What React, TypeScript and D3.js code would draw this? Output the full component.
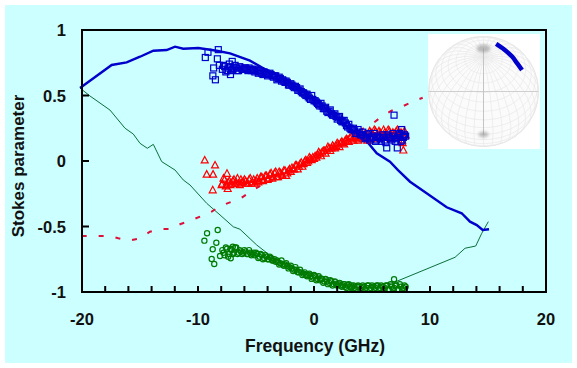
import React from "react";
import * as d3 from "d3";

const xTicks = [-20, -10, 0, 10, 20];
const xMinor = [-18, -16, -14, -12, -8, -6, -4, -2, 2, 4, 6, 8, 12, 14, 16, 18];
const yTicks = [1, 0.5, 0, -0.5, -1];

const blueLine: [number, number][] = [[-20.17,.557],[-17.44,.733],[-16.15,.753],[-15,.796],[-13.85,.842],[-12.7,.847],[-11.98,.873],[-11.27,.857],[-9.97,.863],[-8.39,.842],[-7.24,.822],[-5.52,.766],[-4.37,.708],[-2.93,.644],[-1.78,.58],[.52,.44],[2.82,.262],[4.22,.185],[5.41,.059],[6.55,-.005],[7.24,-.069],[8.28,-.158],[9.4,-.227],[11.44,-.353],[12.73,-.399],[13.45,-.463],[14.03,-.489],[14.54,-.527],[15.09,-.521]];
const greenLine: [number, number][] = [[-20.17,.557],[-19.31,.496],[-17.59,.389],[-16.29,.25],[-15.58,.206],[-15,.135],[-14.37,.097],[-13.85,.127],[-13.13,-.005],[-11.98,-.069],[-11.27,-.145],[-10.69,-.183],[-9.25,-.323],[-8.1,-.412],[-6.96,-.502],[-6.38,-.521],[-4.94,-.641],[-3.51,-.74],[-1.2,-.832],[2.24,-.916],[4.83,-.954],[6.84,-.929],[12.16,-.735],[13.02,-.666],[13.94,-.649],[14.46,-.552],[15.03,-.463]];
const redLine: [number, number][] = [[-20.03,-.573],[-17.59,-.573],[-16.87,-.59],[-16,-.608],[-15,-.59],[-14.14,-.54],[-13.28,-.519],[-12.41,-.519],[-11.55,-.483],[-10.69,-.456],[-9.68,-.42],[-8.82,-.387],[-8.1,-.344],[-7.09,-.311],[-6.23,-.28],[-5.37,-.227],[-4.51,-.183],[-2.93,-.115],[-1.21,-.03],[1.38,.084],[3.1,.198],[4.97,.28],[5.75,.334],[6.64,.382],[7.59,.415],[8.51,.453],[9.37,.483]];

const markerFreq = [-7.9,-7.7,-7.5,-7.3,-7.1,-6.9,-6.7,-6.5,-6.3,-6.1,-5.9,-5.7,-5.5,-5.3,-5.1,-4.9,-4.7,-4.5,-4.3,-4.1,-3.9,-3.7,-3.5,-3.3,-3.1,-2.9,-2.7,-2.5,-2.3,-2.1,-1.9,-1.7,-1.5,-1.3,-1.1,-.9,-.7,-.5,-.3,-.1,.1,.3,.5,.7,.9,1.1,1.3,1.5,1.7,1.9,2.1,2.3,2.5,2.7,2.9,3.1,3.3,3.5,3.7,3.9,4.1,4.3,4.5,4.7,4.9,5.1,5.3,5.5,5.7,5.9,6.1,6.3,6.5,6.7,6.9,7.1,7.3,7.5,7.7,7.9];
const blueMarks = [.70,.72,.69,.74,.69,.71,.71,.69,.71,.70,.71,.69,.70,.70,.68,.69,.68,.67,.68,.67,.66,.66,.64,.65,.63,.63,.62,.60,.60,.58,.58,.56,.56,.54,.53,.52,.50,.49,.47,.47,.46,.44,.42,.42,.40,.38,.38,.36,.35,.34,.33,.31,.30,.29,.26,.25,.24,.23,.21,.22,.20,.19,.18,.21,.17,.18,.15,.19,.17,.20,.16,.20,.18,.16,.19,.17,.20,.15,.18,.19];
const redMarks = [-.17,-.14,-.18,-.15,-.17,-.14,-.16,-.17,-.14,-.16,-.15,-.17,-.13,-.16,-.17,-.13,-.15,-.12,-.14,-.11,-.13,-.09,-.12,-.08,-.12,-.09,-.11,-.07,-.09,-.06,-.05,-.06,-.03,-.04,-.01,-.02,.01,0,.02,.03,.04,.05,.06,.07,.08,.09,.10,.10,.11,.12,.13,.14,.14,.16,.16,.18,.17,.18,.17,.19,.18,.20,.18,.17,.22,.19,.23,.18,.22,.19,.22,.18,.23,.19,.21,.23,.18,.22,.19,.20];
const greenMarks = [-.68,-.72,-.67,-.71,-.68,-.70,-.66,-.70,-.69,-.70,-.69,-.71,-.70,-.71,-.72,-.71,-.73,-.72,-.74,-.73,-.75,-.74,-.76,-.77,-.77,-.78,-.79,-.79,-.80,-.81,-.82,-.83,-.83,-.85,-.85,-.86,-.87,-.87,-.88,-.89,-.88,-.90,-.91,-.90,-.92,-.92,-.93,-.92,-.94,-.94,-.94,-.95,-.95,-.96,-.95,-.96,-.96,-.97,-.96,-.96,-.97,-.96,-.97,-.95,-.97,-.96,-.97,-.95,-.97,-.96,-.97,-.95,-.98,-.96,-.97,-.95,-.98,-.96,-.97,-.96];

const markerFreq2 = [-7.8,-7.6,-7.4,-7.2,-7,-6.8,-6.6,-6.4,-6.2,-6,-5.8,-5.6,-5.4,-5.2,-5,-4.8,-4.6,-4.4,-4.2,-4,-3.8,-3.6,-3.4,-3.2,-3,-2.8,-2.6,-2.4,-2.2,-2,-1.8,-1.6,-1.4,-1.2,-1,-.8,-.6,-.4,-.2,0,.2,.4,.6,.8,1,1.2,1.4,1.6,1.8,2,2.2,2.4,2.6,2.8,3,3.2,3.4,3.6,3.8,4,4.2,4.4,4.6,4.8,5,5.2,5.4,5.6,5.8,6,6.2,6.4,6.6,6.8,7,7.2,7.4,7.6,7.8];
const blueMarks2 = [.73,.68,.71,.72,.70,.73,.69,.72,.70,.71,.70,.71,.69,.69,.70,.67,.69,.66,.67,.65,.67,.65,.65,.62,.64,.61,.61,.61,.58,.59,.57,.57,.54,.55,.52,.51,.51,.48,.50,.46,.45,.43,.44,.40,.41,.37,.39,.35,.36,.32,.34,.30,.31,.27,.28,.24,.25,.21,.24,.20,.22,.17,.20,.16,.19,.21,.16,.18,.15,.18,.14,.19,.17,.21,.15,.18,.21,.16,.20];
const redMarks2 = [-.13,-.19,-.16,-.18,-.15,-.17,-.13,-.18,-.16,-.14,-.17,-.14,-.17,-.14,-.15,-.16,-.12,-.15,-.11,-.14,-.10,-.13,-.09,-.12,-.08,-.10,-.07,-.11,-.07,-.08,-.06,-.03,-.06,-.02,-.04,0,-.01,.03,.01,.02,.03,.07,.04,.08,.06,.11,.08,.12,.10,.14,.11,.15,.13,.17,.15,.19,.16,.19,.16,.20,.17,.21,.16,.23,.18,.24,.17,.23,.18,.24,.19,.24,.17,.22,.18,.24,.20,.16,.23];
const greenMarks2 = [-.70,-.66,-.73,-.67,-.71,-.66,-.71,-.68,-.71,-.68,-.71,-.68,-.72,-.70,-.70,-.74,-.71,-.75,-.72,-.75,-.73,-.76,-.75,-.76,-.79,-.76,-.80,-.78,-.82,-.80,-.84,-.81,-.85,-.83,-.87,-.85,-.88,-.86,-.90,-.87,-.91,-.88,-.90,-.93,-.90,-.94,-.91,-.95,-.92,-.95,-.93,-.96,-.94,-.97,-.94,-.97,-.95,-.98,-.95,-.98,-.95,-.98,-.95,-.98,-.95,-.98,-.95,-.98,-.95,-.98,-.95,-.98,-.94,-.98,-.95,-.98,-.94,-.98,-.95];

const blueOutliers: [number, number][] = [[-9.37,.79],[-9.14,.83],[-8.25,.85],[-8.33,.78],[-8.65,.71],[-8.72,.65],[-8.5,.62],[-8.16,.73],[-7.2,.66],[-7.05,.76],[6.9,.35],[7.56,.24],[7.7,.185],[7.18,.10],[6.27,.10]];
const redOutliers: [number, number][] = [[-9.42,.008],[-8.53,-.03],[-9.25,-.1],[-8.7,-.1],[-8.73,-.22],[-7.5,-.094],[-7.44,-.21],[-7.96,-.18],[7.64,.14],[7.7,.084]];
const greenOutliers: [number, number][] = [[-9.22,-.552],[-8.3,-.527],[-9.45,-.608],[-8.42,-.624],[-8.73,-.674],[-8.82,-.748],[-8.6,-.786],[-8.1,-.725],[-7.18,-.743],[-7,-.654],[6.9,-.903]];

const sphereTrack: [number, number][] = [[.23,-.867],[.36,-.776],[.52,-.635],[.61,-.515],[.70,-.39]];

const x = d3.scaleLinear().domain([-20, 20]).range([82, 546]);
const y = d3.scaleLinear().domain([-1, 1]).range([292, 30]);
const line = d3.line<[number, number]>().x(d => x(d[0])).y(d => y(d[1]));

const font = "'Liberation Sans', Arial, sans-serif";
const zip = (fs: number[], vals: number[]): [number, number][] => fs.map((f, i) => [f, vals[i]]);

const cx = 483.5, cy = 91.5, R = 55;
const front = d3.geoOrthographic().scale(R).translate([cx, cy]).rotate([0, -51, 0]).clipAngle(90).precision(0.5);
const back = d3.geoOrthographic().scale(R).translate([cx, cy]).rotate([180, 51, 180]).clipAngle(90).precision(0.5);
const grat = d3.geoGraticule().step([10, 10]).extentMajor([[-180, -90], [180, 90]]).extentMinor([[-180, -90], [180, 90]])();
const su = d3.scaleLinear().domain([-1, 1]).range([cx - R, cx + R]);
const sv = d3.scaleLinear().domain([-1, 1]).range([cy - R, cy + R]);
const trackLine = d3.line<[number, number]>().x(d => su(d[0])).y(d => sv(d[1])).curve(d3.curveCatmullRom);
const pole = 43;

export default function App() {
  const s = (pts: [number, number][], k: string) => pts.map((d, i) => (
    <rect key={k + i} x={x(d[0]) - 3} y={y(d[1]) - 3} width={6} height={6} fill="none" stroke="#0000cc" strokeWidth={1.2} />
  ));
  const t = (pts: [number, number][], k: string) => pts.map((d, i) => (
    <path key={k + i} d={`M${x(d[0])},${y(d[1]) - 3.5}l3.5,6.5h-7z`} fill="none" stroke="#ff0000" strokeWidth={1.2} />
  ));
  const c = (pts: [number, number][], k: string) => pts.map((d, i) => (
    <circle key={k + i} cx={x(d[0])} cy={y(d[1])} r={2.6} fill="none" stroke="#007a00" strokeWidth={1.2} />
  ));
  return (
    <svg width={577} height={368} style={{ position: "absolute", left: 0, top: 0 }} fontFamily={font}>
      <defs>
        <filter id="soft" x="-20%" y="-20%" width="140%" height="140%"><feGaussianBlur stdDeviation="0.5" /></filter>
        <filter id="smudge" x="-100%" y="-100%" width="300%" height="300%"><feGaussianBlur stdDeviation="1.8" /></filter>
      </defs>
      <rect width={577} height={368} fill="#ffffff" />
      <rect x={5} y={5} width={567} height={358} fill="#ccffff" />
      <path d={line(greenLine)!} fill="none" stroke="#0a7038" strokeWidth={1} />
      <path d={line(redLine)!} fill="none" stroke="#dc1038" strokeWidth={2} strokeDasharray="5 12" />
      <path d={line(blueLine)!} fill="none" stroke="#0000cc" strokeWidth={2.4} />
      {c(zip(markerFreq, greenMarks), "g")}
      {c(zip(markerFreq2, greenMarks2), "g2")}
      {c(greenOutliers, "go")}
      {t(zip(markerFreq, redMarks), "r")}
      {t(zip(markerFreq2, redMarks2), "r2")}
      {t(redOutliers, "ro")}
      {s(zip(markerFreq, blueMarks), "b")}
      {s(zip(markerFreq2, blueMarks2), "b2")}
      {s(blueOutliers, "bo")}

      <rect x={428} y={34} width={112} height={115} fill="#ffffff" />
      <g filter="url(#soft)">
        <circle cx={cx} cy={cy} r={R} fill="#fbfbfb" stroke="#e0e0e0" strokeWidth={1} />
        <path d={d3.geoPath(back)(grat)!} fill="none" stroke="#f0f0f0" strokeWidth={0.5} />
        <path d={d3.geoPath(front)(grat)!} fill="none" stroke="#e6e6e6" strokeWidth={0.5} />
        <line x1={cx - R} x2={cx + R} y1={cy} y2={cy} stroke="#cfcfcf" strokeWidth={1} />
        <line x1={cx} x2={cx} y1={cy - pole} y2={cy + pole} stroke="#c4c4c4" strokeWidth={1} />
      </g>
      <ellipse cx={cx} cy={cy - pole} rx={7} ry={4} fill="#888" opacity={0.55} filter="url(#smudge)" />
      <ellipse cx={cx} cy={cy + pole} rx={5} ry={3} fill="#888" opacity={0.55} filter="url(#smudge)" />
      <path d={trackLine(sphereTrack)!} fill="none" stroke="#0000cc" strokeWidth={4.5} />

      <rect x={82} y={30} width={464} height={262} fill="none" stroke="#000" strokeWidth={2} />
      {[...xTicks, ...xMinor].map(v => (
        <line key={"xt" + v} x1={x(v)} x2={x(v)} y1={292} y2={286} stroke="#000" strokeWidth={2} />
      ))}
      {yTicks.map(v => (
        <line key={"yt" + v} x1={82} x2={89} y1={y(v)} y2={y(v)} stroke="#000" strokeWidth={2} />
      ))}
      {xTicks.map(v => (
        <text key={"xl" + v} x={x(v)} y={325} textAnchor="middle" fontSize={16.5} fontWeight={700} fill="#111">{v}</text>
      ))}
      {yTicks.map(v => (
        <text key={"yl" + v} x={66} y={y(v) + 6} textAnchor="end" fontSize={16.5} fontWeight={700} fill="#111">{v}</text>
      ))}
      <text x={315} y={352} textAnchor="middle" fontSize={17.5} fontWeight={700} fill="#111">Frequency (GHz)</text>
      <text transform="translate(24,166) rotate(-90)" textAnchor="middle" fontSize={17} fontWeight={700} fill="#111">Stokes parameter</text>
    </svg>
  );
}
